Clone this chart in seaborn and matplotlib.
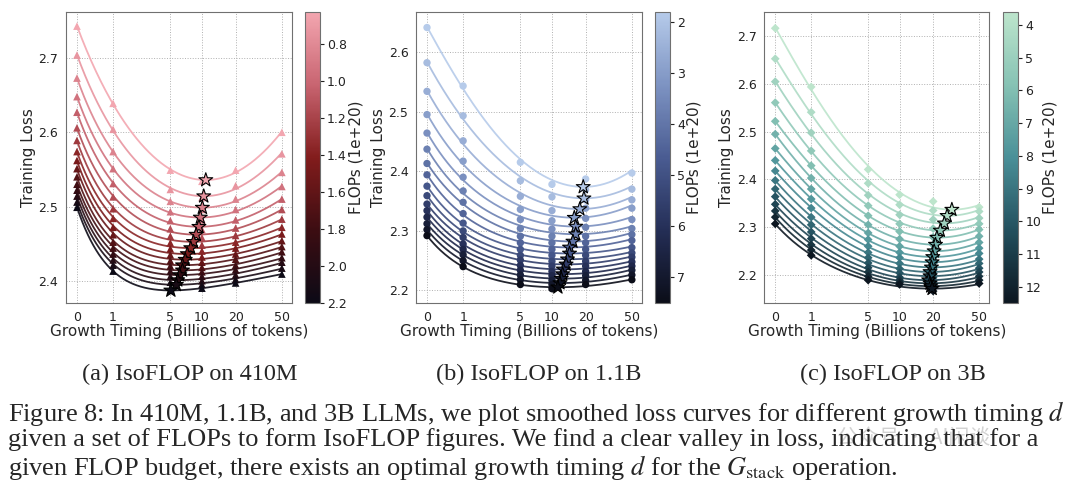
import numpy as np
import pandas as pd
import seaborn as sns
import matplotlib.pyplot as plt
from matplotlib.colors import LinearSegmentedColormap, Normalize

# growth timing d (billions of tokens) used on every panel
growth_ticks = [0, 1, 5, 10, 20, 50]

# 410M: FLOPs levels (1e+20) and loss at each growth timing
flops_410m = [0.63, 0.73, 0.84, 0.94, 1.05, 1.15, 1.26, 1.36,
              1.47, 1.57, 1.68, 1.78, 1.89, 1.99, 2.10, 2.20]
loss_410m = [
    [2.743, 2.639, 2.549, 2.534, 2.549, 2.600],
    [2.704, 2.604, 2.523, 2.512, 2.528, 2.571],
    [2.673, 2.574, 2.507, 2.496, 2.510, 2.546],
    [2.648, 2.551, 2.493, 2.482, 2.496, 2.527],
    [2.627, 2.531, 2.481, 2.469, 2.482, 2.510],
    [2.606, 2.513, 2.470, 2.458, 2.471, 2.496],
    [2.589, 2.497, 2.460, 2.448, 2.461, 2.483],
    [2.574, 2.484, 2.451, 2.440, 2.452, 2.472],
    [2.562, 2.472, 2.443, 2.432, 2.444, 2.463],
    [2.551, 2.462, 2.435, 2.425, 2.436, 2.454],
    [2.540, 2.452, 2.427, 2.418, 2.429, 2.446],
    [2.530, 2.444, 2.420, 2.412, 2.421, 2.439],
    [2.522, 2.436, 2.413, 2.406, 2.415, 2.431],
    [2.514, 2.428, 2.406, 2.400, 2.408, 2.425],
    [2.506, 2.421, 2.398, 2.395, 2.402, 2.417],
    [2.499, 2.413, 2.387, 2.390, 2.397, 2.409],
]

# 1.1B
flops_1b = [1.80, 2.18, 2.56, 2.94, 3.32, 3.70, 4.08, 4.46,
            4.84, 5.22, 5.60, 5.98, 6.36, 6.74, 7.12, 7.50]
loss_1b = [
    [2.641, 2.543, 2.415, 2.378, 2.387, 2.397],
    [2.582, 2.493, 2.384, 2.357, 2.369, 2.370],
    [2.534, 2.451, 2.358, 2.334, 2.352, 2.352],
    [2.495, 2.417, 2.336, 2.317, 2.338, 2.338],
    [2.464, 2.390, 2.319, 2.303, 2.321, 2.319],
    [2.437, 2.367, 2.304, 2.291, 2.306, 2.304],
    [2.413, 2.348, 2.291, 2.280, 2.291, 2.294],
    [2.394, 2.329, 2.280, 2.269, 2.280, 2.284],
    [2.375, 2.313, 2.269, 2.259, 2.269, 2.272],
    [2.359, 2.300, 2.259, 2.249, 2.259, 2.263],
    [2.345, 2.289, 2.251, 2.241, 2.249, 2.256],
    [2.334, 2.278, 2.242, 2.232, 2.241, 2.248],
    [2.323, 2.269, 2.234, 2.225, 2.232, 2.241],
    [2.312, 2.260, 2.226, 2.217, 2.225, 2.234],
    [2.302, 2.250, 2.218, 2.210, 2.217, 2.226],
    [2.292, 2.240, 2.210, 2.203, 2.210, 2.218],
]

# 3B
flops_3b = [3.60, 4.19, 4.79, 5.38, 5.97, 6.57, 7.16, 7.75,
            8.35, 8.94, 9.53, 10.13, 10.72, 11.31, 11.91, 12.50]
loss_3b = [
    [2.717, 2.594, 2.421, 2.368, 2.354, 2.342],
    [2.653, 2.541, 2.392, 2.347, 2.335, 2.333],
    [2.605, 2.498, 2.367, 2.326, 2.316, 2.319],
    [2.561, 2.460, 2.345, 2.307, 2.297, 2.307],
    [2.522, 2.429, 2.324, 2.291, 2.279, 2.295],
    [2.495, 2.403, 2.305, 2.275, 2.263, 2.281],
    [2.465, 2.380, 2.288, 2.260, 2.249, 2.268],
    [2.440, 2.359, 2.274, 2.247, 2.236, 2.256],
    [2.418, 2.340, 2.260, 2.236, 2.224, 2.245],
    [2.398, 2.321, 2.247, 2.224, 2.213, 2.233],
    [2.380, 2.305, 2.236, 2.213, 2.203, 2.224],
    [2.364, 2.290, 2.225, 2.204, 2.194, 2.214],
    [2.348, 2.276, 2.215, 2.195, 2.185, 2.206],
    [2.334, 2.263, 2.206, 2.189, 2.178, 2.197],
    [2.321, 2.252, 2.197, 2.184, 2.172, 2.189],
    [2.307, 2.241, 2.189, 2.180, 2.166, 2.182],
]

sns.set_style('white')
plt.rcParams['font.family'] = ['DejaVu Sans', 'Noto Sans CJK SC']
plt.rcParams['mathtext.fontset'] = 'stix'

red_cmap = LinearSegmentedColormap.from_list(
    'reds', ['#f3a6b0', '#c86470', '#821c1c', '#3c0d12', '#0c0a16'])
blue_cmap = LinearSegmentedColormap.from_list(
    'blues', ['#b6cbea', '#7d93c2', '#4a5c92', '#242e56', '#0b0d18'])
green_cmap = LinearSegmentedColormap.from_list(
    'greens', ['#bde5cc', '#86c2b4', '#4a9098', '#23505e', '#0c1620'])


def basis(v, p=1.5):
    # steep drop at small d plus a slow quadratic rise, in log(1 + d)
    return np.column_stack([np.ones_like(v), np.exp(-p * v), v, v ** 2])


def draw_panel(ax, cax, flops, loss, cmap, marker, msize, ylim, yticks, cticks):
    norm = Normalize(min(flops), max(flops))
    u = np.log1p(growth_ticks)
    grid = np.expm1(np.linspace(0, np.log1p(50), 300))
    pts, curves, stars = [], [], []
    for f, ys in zip(flops, loss):
        for d, y in zip(growth_ticks, ys):
            pts.append((f, d, y))
        coef, *_ = np.linalg.lstsq(basis(u), np.array(ys), rcond=None)
        fit = basis(np.log1p(grid)) @ coef
        for d, y in zip(grid, fit):
            curves.append((f, d, y))
        i = fit.argmin()
        stars.append((f, grid[i], fit[i]))
    cols = ['flops', 'd', 'loss']
    pts = pd.DataFrame(pts, columns=cols)
    curves = pd.DataFrame(curves, columns=cols)
    stars = pd.DataFrame(stars, columns=cols)

    sns.lineplot(data=curves, x='d', y='loss', hue='flops', palette=cmap,
                 hue_norm=norm, estimator=None, legend=False, lw=1.3,
                 alpha=0.9, ax=ax)
    sns.scatterplot(data=pts, x='d', y='loss', hue='flops', palette=cmap,
                    hue_norm=norm, marker=marker, s=msize, linewidth=0,
                    legend=False, ax=ax, zorder=3)
    sns.scatterplot(data=stars, x='d', y='loss', hue='flops', palette=cmap,
                    hue_norm=norm, marker='*', s=110, edgecolor='black',
                    linewidth=0.8, legend=False, ax=ax, zorder=4)

    ax.set_xscale('function', functions=(np.log1p, np.expm1))
    ax.set_xlim(-0.19, 61)
    ax.set_xticks(growth_ticks)
    ax.set_xticklabels([str(t) for t in growth_ticks])
    ax.set_ylim(*ylim)
    ax.set_yticks(yticks)
    ax.grid(True, ls=':', color='#b0b0b0', lw=0.7)
    ax.tick_params(labelsize=9, colors='#222222', pad=2)
    for s in ax.spines.values():
        s.set_color('#707070')
    ax.set_xlabel('Growth Timing (Billions of tokens)', fontsize=11, labelpad=0)
    ax.set_ylabel('Training Loss', fontsize=11, labelpad=2)

    sm = plt.cm.ScalarMappable(norm=norm, cmap=cmap)
    cb = plt.colorbar(sm, cax=cax)
    cb.ax.invert_yaxis()
    cb.set_ticks(cticks)
    cb.ax.tick_params(labelsize=9, length=3, colors='#222222', pad=2)
    cb.outline.set_edgecolor('#707070')
    cb.set_label('FLOPs (1e+20)', fontsize=11, labelpad=1)


fig = plt.figure(figsize=(10.8, 4.97), dpi=100)

ax_a = fig.add_axes([0.0611, 0.3903, 0.2093, 0.5855])
cax_a = fig.add_axes([0.2824, 0.3903, 0.0139, 0.5855])
ax_b = fig.add_axes([0.3852, 0.3903, 0.2093, 0.5855])
cax_b = fig.add_axes([0.6065, 0.3903, 0.0139, 0.5855])
ax_c = fig.add_axes([0.7077, 0.3903, 0.2083, 0.5855])
cax_c = fig.add_axes([0.9290, 0.3903, 0.0139, 0.5855])

draw_panel(ax_a, cax_a, flops_410m, loss_410m, red_cmap, '^', 30,
           (2.370, 2.762), [2.4, 2.5, 2.6, 2.7],
           [0.8, 1.0, 1.2, 1.4, 1.6, 1.8, 2.0, 2.2])
draw_panel(ax_b, cax_b, flops_1b, loss_1b, blue_cmap, 'o', 28,
           (2.179, 2.667), [2.2, 2.3, 2.4, 2.5, 2.6],
           [2, 3, 4, 5, 6, 7])
draw_panel(ax_c, cax_c, flops_3b, loss_3b, green_cmap, 'D', 20,
           (2.141, 2.751), [2.2, 2.3, 2.4, 2.5, 2.6, 2.7],
           [4, 5, 6, 7, 8, 9, 10, 11, 12])

serif = ['Liberation Serif', 'DejaVu Serif']
fig.text(190 / 1080, 1 - 374 / 497, '(a) IsoFLOP on 410M', ha='center',
         va='center', family=serif, fontsize=17.5)
fig.text(539 / 1080, 1 - 374 / 497, '(b) IsoFLOP on 1.1B', ha='center',
         va='center', family=serif, fontsize=17.5)
fig.text(893 / 1080, 1 - 374 / 497, '(c) IsoFLOP on 3B', ha='center',
         va='center', family=serif, fontsize=17.5)

# faint watermark sitting behind the caption
fig.text(0.775, 1 - 438 / 497, '公众号 · AI闲谈', ha='left', va='center',
         family=['Noto Sans CJK SC', 'DejaVu Sans'], fontsize=15,
         color='#909090', alpha=0.4, zorder=0)

caption = [
    'Figure 8: In 410M, 1.1B, and 3B LLMs, we plot smoothed loss curves for different growth timing $d$',
    'given a set of FLOPs to form IsoFLOP figures. We find a clear valley in loss, indicating that for a',
    'given FLOP budget, there exists an optimal growth timing $d$ for the $G_{\\mathrm{stack}}$ operation.',
]
for k, line in enumerate(caption):
    fig.text(8 / 1080, 1 - (413 + 27 * k) / 497, line, ha='left', va='center',
             family=serif, fontsize=19, zorder=2)

plt.savefig('out.png', dpi=100)
